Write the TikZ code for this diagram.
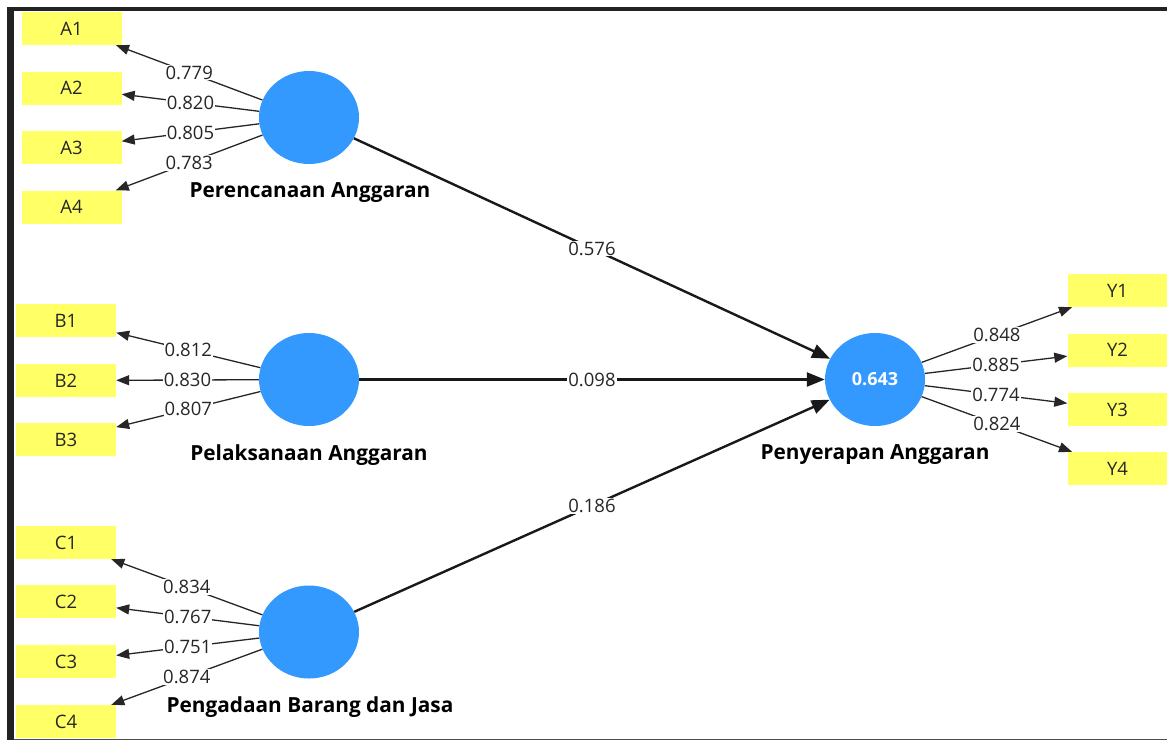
\documentclass[tikz,border=0pt]{standalone}
\usepackage{fontspec}
\setmainfont{Open Sans}
\usetikzlibrary{shapes.geometric,arrows.meta}
\definecolor{indy}{HTML}{FFFF66}
\definecolor{lvblue}{HTML}{3399FF}
\definecolor{frame}{HTML}{222222}
\begin{document}
\begin{tikzpicture}[x=1pt,y=-1pt,
 indbox/.style={fill=indy, minimum width=100pt, minimum height=33pt, inner sep=0pt, font=\fontsize{18.5}{21}\selectfont, text=black!85},
 lat/.style={ellipse, fill=lvblue, minimum width=100pt, minimum height=93pt, inner sep=0pt},
 lname/.style={font=\bfseries\fontsize{20.8}{24}\selectfont},
 loadarrow/.style={draw=black!85, line width=1.3pt, -{Triangle[length=13pt,width=10pt]}},
 structarrow/.style={draw=black!90, line width=2.4pt, -{Triangle[length=18pt,width=14pt]}},
 coef/.style={fill=white, inner sep=1pt, font=\fontsize{18.5}{21}\selectfont, text=black!85}]
\useasboundingbox (0,0) rectangle (1167,740);
\fill[white] (0,0) rectangle (1167,740);
% frame
\fill[frame] (7,7) rectangle (1167,11);
\fill[frame] (7,7) rectangle (14,740);
\fill[black!70] (14,738.5) rectangle (1167,740);

% latent variables
\node[lat] (PA) at (309,117.5) {};
\node[lat] (PL) at (309,379.5) {};
\node[lat] (PB) at (309,632) {};
\node[lat, text=white, font=\bfseries\fontsize{18}{21}\selectfont] (PY) at (875,379.5) {0.643};

\node[lname] (PAl) at (310,193) {Perencanaan Anggaran};
\node[lname] (PLl) at (309,455) {Pelaksanaan Anggaran};
\node[lname] (PBl) at (310,707) {Pengadaan Barang dan Jasa};
\node[lname] (PYl) at (875,455) {Penyerapan Anggaran};

% indicators
\node[indbox] (A1) at (71.5,28.5) {A1};
\node[indbox] (A2) at (71.5,88) {A2};
\node[indbox] (A3) at (71.5,147.5) {A3};
\node[indbox] (A4) at (71.5,207) {A4};

\node[indbox] (B1) at (66,320.5) {B1};
\node[indbox] (B2) at (66,380.5) {B2};
\node[indbox] (B3) at (66,439.5) {B3};

\node[indbox] (C1) at (66,542.5) {C1};
\node[indbox] (C2) at (66,601.5) {C2};
\node[indbox] (C3) at (66,661.5) {C3};
\node[indbox] (C4) at (66,721.5) {C4};

\node[indbox] (Y1) at (1117.5,290.5) {Y1};
\node[indbox] (Y2) at (1117.5,350) {Y2};
\node[indbox] (Y3) at (1117.5,409.5) {Y3};
\node[indbox] (Y4) at (1117.5,468.5) {Y4};

% structural paths
\draw[structarrow] (PA) -- node[coef] {0.576} (PY);
\draw[structarrow] (PL) -- node[coef] {0.098} (PY);
\draw[structarrow] (PB) -- node[coef] {0.186} (PY);

% loadings
\draw[loadarrow] (PA) -- node[coef] {0.779} (A1);
\draw[loadarrow] (PA) -- node[coef] {0.820} (A2);
\draw[loadarrow] (PA) -- node[coef] {0.805} (A3);
\draw[loadarrow] (PA) -- node[coef] {0.783} (A4);

\draw[loadarrow] (PL) -- node[coef] {0.812} (B1);
\draw[loadarrow] (PL) -- node[coef] {0.830} (B2);
\draw[loadarrow] (PL) -- node[coef] {0.807} (B3);

\draw[loadarrow] (PB) -- node[coef] {0.834} (C1);
\draw[loadarrow] (PB) -- node[coef] {0.767} (C2);
\draw[loadarrow] (PB) -- node[coef] {0.751} (C3);
\draw[loadarrow] (PB) -- node[coef] {0.874} (C4);

\draw[loadarrow] (PY) -- node[coef] {0.848} (Y1);
\draw[loadarrow] (PY) -- node[coef] {0.885} (Y2);
\draw[loadarrow] (PY) -- node[coef] {0.774} (Y3);
\draw[loadarrow] (PY) -- node[coef] {0.824} (Y4);
\end{tikzpicture}
\end{document}
